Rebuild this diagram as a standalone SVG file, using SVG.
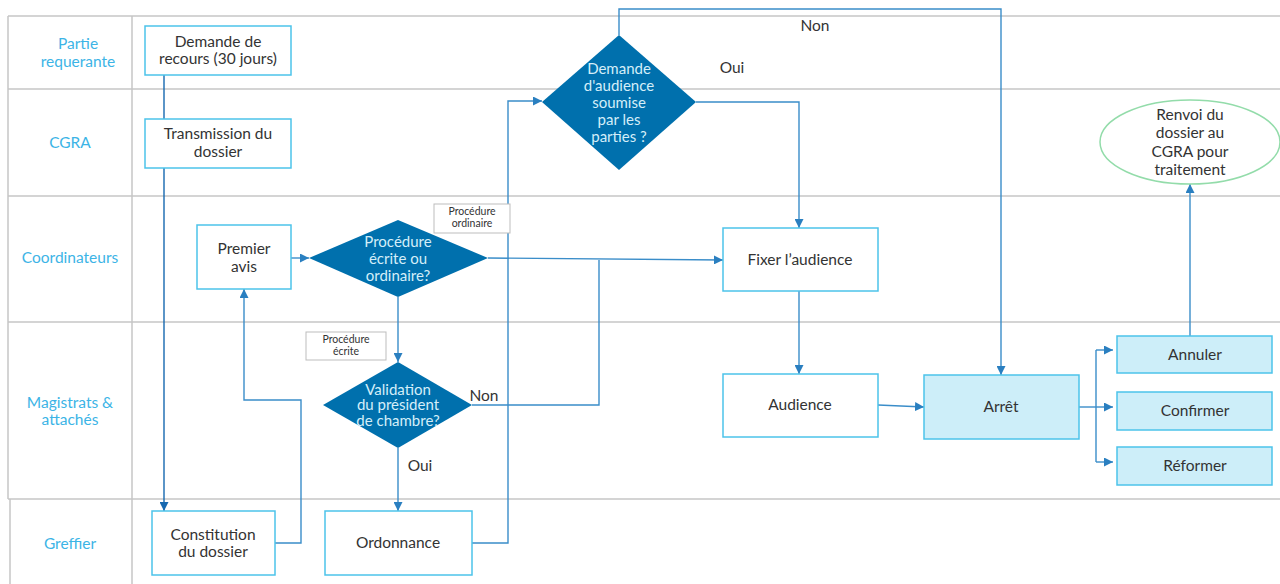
<svg xmlns="http://www.w3.org/2000/svg" width="1280" height="584" viewBox="0 0 1280 584">
<defs>
<marker id="ah" viewBox="0 0 10 10" refX="10" refY="5" markerWidth="9" markerHeight="9" markerUnits="userSpaceOnUse" orient="auto">
<path d="M0,0 L10,5 L0,10 z" fill="#2a7fc0"/>
</marker>
<marker id="ahd" viewBox="0 0 10 10" refX="10" refY="5" markerWidth="9" markerHeight="9" markerUnits="userSpaceOnUse" orient="auto">
<path d="M0,0 L10,5 L0,10 z" fill="#1668b0"/>
</marker>
<style>
.grid{stroke:#c6c6c6;stroke-width:1.5;fill:none}
.lane{font-family:"Lato","Liberation Sans",sans-serif;font-size:15.5px;fill:#3cb4e6;text-anchor:middle}
.box{fill:#ffffff;stroke:#4cc3ea;stroke-width:1.5}
.boxf{fill:#cdeef9;stroke:#4cc3ea;stroke-width:1.5}
.dia{fill:#0070ad}
.t{font-family:"Lato","Liberation Sans",sans-serif;font-size:15.5px;fill:#333333;text-anchor:middle}
.td{font-family:"Lato","Liberation Sans",sans-serif;font-size:15px;fill:#d4eef9;text-anchor:middle}
.small{font-family:"Lato","Liberation Sans",sans-serif;font-size:10.5px;fill:#333333;text-anchor:middle}
.lbl{fill:#ffffff;stroke:#bdbdbd;stroke-width:1}
.c{fill:none;stroke:#3a8dc9;stroke-width:1.4}
.cd{fill:none;stroke:#1668b0;stroke-width:1.4}
.ell{fill:#ffffff;stroke:#93dcaa;stroke-width:1.5}
</style>
</defs>
<g id="grid">
<path class="grid" d="M8,16 H1280 M8,89 H1280 M8,196 H1280 M8,322 H1280 M8,499 H1280 M8,16 V499 M10,499 V584 M132,16 V584"/>
</g>
<g id="lanes">
<text class="lane" x="78" y="49">Partie</text>
<text class="lane" x="78" y="67">requerante</text>
<text class="lane" x="70" y="148">CGRA</text>
<text class="lane" x="70" y="263">Coordinateurs</text>
<text class="lane" x="70" y="408">Magistrats &amp;</text>
<text class="lane" x="70" y="425">attachés</text>
<text class="lane" x="70" y="549">Greffier</text>
</g>
<g id="connectors">
<path class="cd" d="M164,75 V119"/>
<path class="cd" d="M164,168 V511" marker-end="url(#ahd)"/>
<path class="c" d="M275,543 H301 V400 H244 V289" marker-end="url(#ah)"/>
<path class="c" d="M291,258 H309" marker-end="url(#ah)"/>
<path class="c" d="M398,297 V362" marker-end="url(#ah)"/>
<path class="c" d="M488,258 L723,260" marker-end="url(#ah)"/>
<path class="c" d="M472,405 H599 V260"/>
<path class="c" d="M398,448 V511" marker-end="url(#ah)"/>
<path class="c" d="M472,543 H508 V101 H542" marker-end="url(#ah)"/>
<path class="c" d="M619,35 V9 H1001 V375" marker-end="url(#ah)"/>
<path class="c" d="M696,102 H799 V228" marker-end="url(#ah)"/>
<path class="c" d="M799,291 V374" marker-end="url(#ah)"/>
<path class="c" d="M878,405 L924,407" marker-end="url(#ah)"/>
<path class="c" d="M1079,407 H1096"/>
<path class="c" d="M1096,350 V462"/>
<path class="c" d="M1096,350 H1113" marker-end="url(#ah)"/>
<path class="c" d="M1096,407 H1113" marker-end="url(#ah)"/>
<path class="c" d="M1096,462 H1113" marker-end="url(#ah)"/>
<path class="c" d="M1190,336 V184" marker-end="url(#ah)"/>
<text class="t" x="484" y="401">Non</text>
<text class="t" x="420" y="471">Oui</text>
<text class="t" x="815" y="31">Non</text>
<text class="t" x="732" y="73">Oui</text>
</g>
<g id="demande-recours">
<rect class="box" x="145" y="26" width="146" height="49"/>
<text class="t" x="218" y="47">Demande de</text>
<text class="t" x="218" y="64">recours (30 jours)</text>
</g>
<g id="transmission">
<rect class="box" x="145" y="119" width="146" height="49"/>
<text class="t" x="218" y="139">Transmission du</text>
<text class="t" x="218" y="157">dossier</text>
</g>
<g id="premier-avis">
<rect class="box" x="197" y="225" width="94" height="64"/>
<text class="t" x="244" y="254">Premier</text>
<text class="t" x="244" y="272">avis</text>
</g>
<g id="procedure-choix">
<polygon class="dia" points="398,220 488,258 398,297 309,258"/>
<text class="td" x="398" y="247">Procédure</text>
<text class="td" x="398" y="264">écrite ou</text>
<text class="td" x="398" y="281">ordinaire?</text>
</g>
<g id="label-ordinaire">
<rect class="lbl" x="434" y="204" width="76" height="29"/>
<text class="small" x="472" y="215">Procédure</text>
<text class="small" x="472" y="227">ordinaire</text>
</g>
<g id="label-ecrite">
<rect class="lbl" x="306" y="332" width="80" height="28"/>
<text class="small" x="346" y="343">Procédure</text>
<text class="small" x="346" y="355">écrite</text>
</g>
<g id="validation">
<polygon class="dia" points="398,362 472,405 398,448 323,405"/>
<text class="td" x="398" y="394.5" font-size="13.2">Validation</text>
<text class="td" x="398" y="410" font-size="13.2">du président</text>
<text class="td" x="398" y="425.5" font-size="13.2">de chambre?</text>
</g>
<g id="demande-audience">
<polygon class="dia" points="619,35 696,102 619,170 542,102"/>
<text class="td" x="619" y="74" font-size="14">Demande</text>
<text class="td" x="619" y="91" font-size="14">d'audience</text>
<text class="td" x="619" y="108" font-size="14">soumise</text>
<text class="td" x="619" y="125" font-size="14">par les</text>
<text class="td" x="619" y="142" font-size="14">parties ?</text>
</g>
<g id="fixer-audience">
<rect class="box" x="723" y="228" width="155" height="63"/>
<text class="t" x="800" y="265">Fixer l’audience</text>
</g>
<g id="audience">
<rect class="box" x="723" y="374" width="155" height="63"/>
<text class="t" x="800" y="410">Audience</text>
</g>
<g id="arret">
<rect class="boxf" x="924" y="375" width="155" height="64"/>
<text class="t" x="1001" y="412">Arrêt</text>
</g>
<g id="annuler">
<rect class="boxf" x="1117" y="336" width="155" height="37"/>
<text class="t" x="1195" y="360">Annuler</text>
</g>
<g id="confirmer">
<rect class="boxf" x="1117" y="392" width="155" height="38"/>
<text class="t" x="1195" y="416">Confirmer</text>
</g>
<g id="reformer">
<rect class="boxf" x="1117" y="447" width="155" height="38"/>
<text class="t" x="1195" y="471">Réformer</text>
</g>
<g id="renvoi">
<ellipse class="ell" cx="1190" cy="142" rx="90" ry="42"/>
<text class="t" x="1190" y="120">Renvoi du</text>
<text class="t" x="1190" y="138">dossier au</text>
<text class="t" x="1190" y="157">CGRA pour</text>
<text class="t" x="1190" y="175">traitement</text>
</g>
<g id="constitution">
<rect class="box" x="152" y="511" width="123" height="64"/>
<text class="t" x="213" y="540">Constitution</text>
<text class="t" x="213" y="557">du dossier</text>
</g>
<g id="ordonnance">
<rect class="box" x="325" y="511" width="147" height="64"/>
<text class="t" x="398" y="548">Ordonnance</text>
</g>
</svg>
